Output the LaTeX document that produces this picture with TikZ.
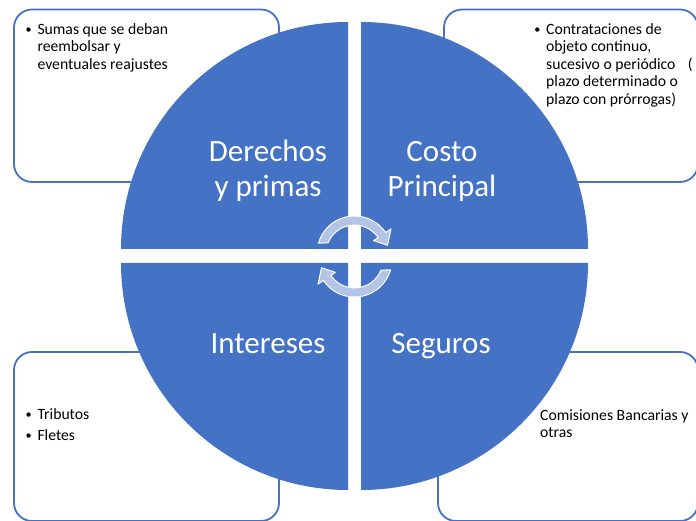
\documentclass[tikz,border=0pt]{standalone}
\usepackage{fontspec}
\setmainfont{Carlito}
\definecolor{quadblue}{RGB}{68,114,196}
\definecolor{arrowfill}{RGB}{180,196,230}
\newcommand{\bul}{\makebox[12.5pt][l]{\hspace{0.6pt}\raisebox{0.8pt}{\scalebox{0.78}{\textbullet}}}}
\newcommand{\ind}{\hspace*{12.5pt}}
\tikzset{
  cycarrow/.pic = {
    \filldraw [cyc] (164:37.5) arc [start angle = 164, end angle = 34, radius = 37.5]
      -- (34:44) -- (14:34) -- (34:23) -- (34:28.5)
      arc [start angle = 34, end angle = 158, radius = 28.5] -- cycle;
  }
}
\begin{document}
\begin{tikzpicture}[x = 1pt, y = 1pt,
    box/.style = {draw = quadblue, line width = 1.8pt, fill = white, rounded corners = 18pt},
    quad/.style = {fill = quadblue},
    cyc/.style = {fill = arrowfill, draw = white, line width = 1pt, line join = round},
    big/.style = {text = white, font = \fontsize{31}{34.5}\selectfont, align = center, anchor = base, inner sep = 0pt},
    small/.style = {font = \fontsize{15.7}{17.5}\selectfont, align = left, anchor = base west, inner sep = 0pt}]
  \fill [white] (0, 0) rectangle (696, 520);
  \useasboundingbox (0, 0) rectangle (696, 520);
  % side boxes
  \draw [box] (14, 338) rectangle (279, 510.5);
  \draw [box] (444, 338) rectangle (698, 510.5);
  \draw [box] (14, -1) rectangle (279, 168);
  \draw [box] (438, -1) rectangle (698, 168);
  % quarters
  \fill [quad] (348, 271) -- (121, 271) arc [start angle = 180, end angle = 90, radius = 227] -- cycle;
  \fill [quad] (361, 271) -- (588, 271) arc [start angle = 0, end angle = 90, radius = 227] -- cycle;
  \fill [quad] (348, 257) -- (121, 257) arc [start angle = 180, end angle = 270, radius = 227] -- cycle;
  \fill [quad] (361, 257) -- (361, 30) arc [start angle = 270, end angle = 360, radius = 227] -- cycle;
  % cycle arrows
  \pic at (354.5, 266.5) {cycarrow};
  \pic [rotate = 180] at (354.5, 260.5) {cycarrow};
  % labels (base = last line)
  \node [big] (derechos) at (268, 323.8) {Derechos\\y primas};
  \node [big] (costo) at (442, 323.8) {Costo\\Principal};
  \node [big] (intereses) at (268, 166.7) {Intereses};
  \node [big] (seguros) at (441, 167) {Seguros};
  \node [small] (sumas) at (24.8, 450.7) {\bul Sumas que se deban\\\ind reembolsar y\\\ind eventuales reajustes};
  \node [small] (contrataciones) at (533.5, 415.7) {\bul Contrataciones de\\\ind objeto continuo,\\\ind sucesivo o periódico \hspace{9pt}(\\\ind plazo determinado o\\\ind plazo con prórrogas)};
  \node [small] (tributos) at (24.8, 100.7) {\bul Tributos};
  \node [small] (fletes) at (24.8, 80) {\bul Fletes};
  \node [small] (comisiones) at (540, 82.5) {Comisiones Bancarias y\\otras};
\end{tikzpicture}
\end{document}
